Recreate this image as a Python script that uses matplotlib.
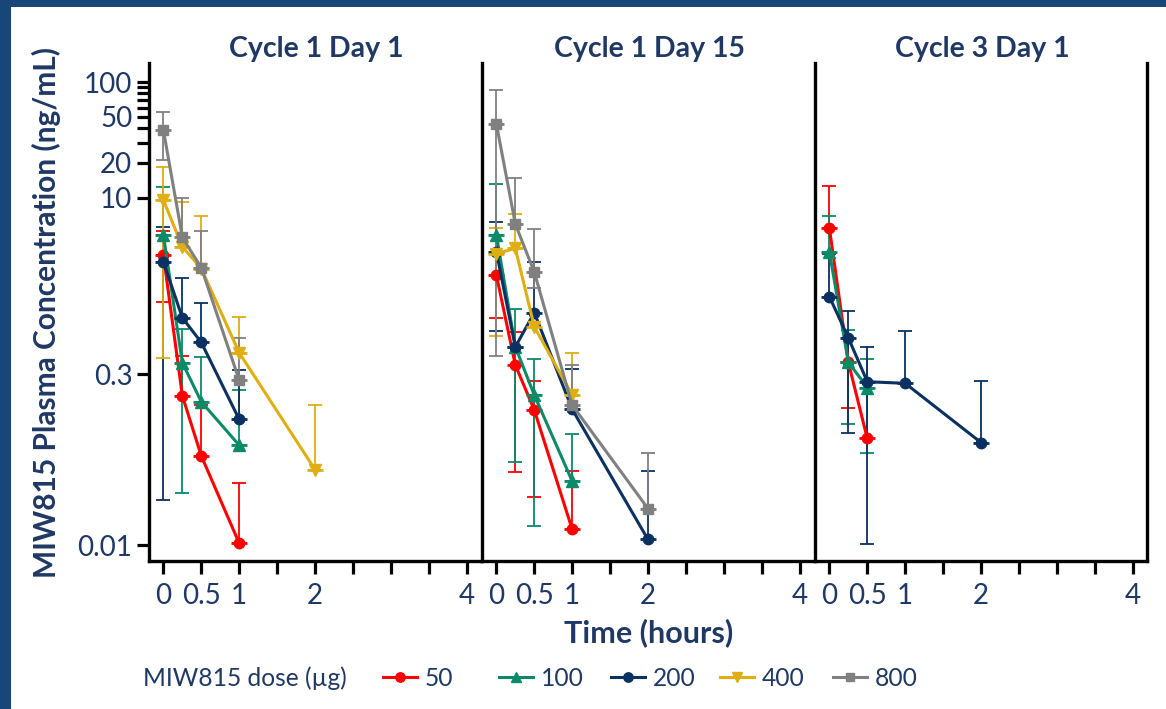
import numpy as np
import matplotlib
matplotlib.use("Agg")
import matplotlib.pyplot as plt
from matplotlib.lines import Line2D
from matplotlib.patches import Rectangle
from matplotlib.ticker import FixedLocator, NullFormatter

plt.rcParams['font.family'] = ['Lato', 'DejaVu Sans']

nan = np.nan
times = [0, 0.25, 0.5, 1, 2]
panels = ["Cycle 1 Day 1", "Cycle 1 Day 15", "Cycle 3 Day 1"]
doses = ["50", "100", "200", "400", "800"]

# ---- Cycle 1 Day 1 ----
c1d1_mean = {
    "50":  [3.2, 0.195, 0.059, 0.0104, nan],
    "100": [4.77, 0.376, 0.173, 0.073, nan],
    "200": [2.8, 0.92, 0.564, 0.122, nan],
    "400": [9.57, 3.78, 2.45, 0.459, 0.045],
    "800": [38.5, 4.55, 2.49, 0.266, nan],
}
c1d1_hi = {
    "50":  [5.2, 0.43, 0.164, 0.0345, nan],
    "100": [12.5, 0.73, 0.419, 0.221, nan],
    "200": [5.62, 2.05, 1.24, 0.325, nan],
    "400": [18.5, 9.25, 6.96, 0.94, 0.162],
    "800": [54.7, 9.9, 5.19, 0.61, nan],
}
c1d1_lo = {
    "50":  [1.26, nan, nan, nan, nan],
    "100": [nan, 0.028, nan, nan, nan],
    "200": [0.0245, nan, nan, nan, nan],
    "400": [0.416, nan, nan, nan, nan],
    "800": [21.2, nan, nan, nan, nan],
}

# ---- Cycle 1 Day 15 ----
c1d15_mean = {
    "50":  [2.15, 0.359, 0.147, 0.0137, nan],
    "100": [4.77, 0.516, 0.198, 0.0357, nan],
    "200": [3.42, 0.516, 1.02, 0.149, 0.0112],
    "400": [3.3, 3.66, 0.77, 0.198, nan],
    "800": [43.4, 5.93, 2.28, 0.162, 0.0207],
}
c1d15_hi = {
    "50":  [3.31, 0.688, 0.261, 0.0438, nan],
    "100": [13.1, 1.09, 0.405, 0.0904, nan],
    "200": [6.13, nan, 2.8, 0.33, 0.0436],
    "400": [5.5, 7.2, nan, 0.459, nan],
    "800": [85.3, 14.9, 5.4, 0.359, 0.062],
}
c1d15_lo = {
    "50":  [0.92, 0.043, 0.0261, nan, nan],
    "100": [nan, 0.0525, 0.0146, nan, nan],
    "200": [0.706, nan, nan, nan, nan],
    "400": [0.643, nan, nan, nan, nan],
    "800": [0.432, nan, 1.65, nan, nan],
}

# ---- Cycle 3 Day 1 ----
c3d1_mean = {
    "50":  [5.45, 0.379, 0.0835, nan, nan],
    "100": [3.42, 0.38, 0.23, nan, nan],
    "200": [1.40, 0.618, 0.258, 0.25, 0.077],
}
c3d1_hi = {
    "50":  [12.6, 0.602, nan, nan, nan],
    "100": [6.96, 0.72, 0.402, nan, nan],
    "200": [3.27, 1.06, 0.516, 0.706, 0.262],
}
c3d1_lo = {
    "50":  [nan, 0.152, nan, nan, nan],
    "100": [nan, 0.111, 0.062, nan, nan],
    "200": [nan, 0.093, 0.0102, nan, nan],
}

panel_data = [(c1d1_mean, c1d1_hi, c1d1_lo),
              (c1d15_mean, c1d15_hi, c1d15_lo),
              (c3d1_mean, c3d1_hi, c3d1_lo)]

yticks_major = [0.01, 0.3, 10, 20, 50, 100]
ytick_labels = ["0.01", "0.3", "10", "20", "50", "100"]
yticks_minor = [30, 40, 60, 70, 80, 90]
xticks_major = [0, 0.5, 1, 2, 4]
xtick_labels = ["0", "0.5", "1", "2", "4"]
xticks_minor = [1.5, 2.5, 3, 3.5]

colors = {"50": "#FF0000", "100": "#0B8A68", "200": "#0A3161",
          "400": "#DFAE12", "800": "#808080"}
markers = {"50": "o", "100": "^", "200": "o", "400": "v", "800": "s"}
msizes = {"50": 7.5, "100": 8.5, "200": 7.5, "400": 8.5, "800": 7}
navy = "#1F3864"

W, H = 1166, 709
fig = plt.figure(figsize=(W / 100, H / 100), dpi=100)

# blue frame
fig.patches.append(Rectangle((0, 0), 11 / W, 1, transform=fig.transFigure,
                             facecolor="#194679", edgecolor="none", zorder=0))
fig.patches.append(Rectangle((0, 1 - 7 / H), 1, 7 / H, transform=fig.transFigure,
                             facecolor="#194679", edgecolor="none", zorder=0))

lefts = [149, 482, 815]
width_px = 332
top_px, bot_px = 63, 561
axes = []
for i in range(3):
    ax = fig.add_axes([lefts[i] / W, 1 - bot_px / H, width_px / W, (bot_px - top_px) / H])
    axes.append(ax)
    ax.set_yscale("log")
    ax.set_ylim(0.0073, 146)
    ax.set_xlim(-0.19, 4.19)
    ax.patch.set_alpha(0)
    for s in ["left", "bottom", "right", "top"]:
        ax.spines[s].set_linewidth(2.4)
        ax.spines[s].set_color("black")
    ax.spines["top"].set_visible(False)
    ax.spines["right"].set_visible(i == 2)

    ax.set_xticks(xticks_major)
    ax.set_xticklabels(xtick_labels)
    ax.xaxis.set_minor_locator(FixedLocator(xticks_minor))
    ax.xaxis.set_minor_formatter(NullFormatter())
    ax.tick_params(axis="x", which="both", direction="out", length=9, width=2.3,
                   color="black", labelsize=20, labelcolor=navy, pad=7)
    if i == 0:
        ax.set_yticks(yticks_major)
        ax.set_yticklabels(ytick_labels)
        ax.yaxis.set_minor_locator(FixedLocator(yticks_minor))
        ax.yaxis.set_minor_formatter(NullFormatter())
        ax.tick_params(axis="y", which="both", direction="out", length=9, width=2.3,
                       color="black", labelsize=20, labelcolor=navy, pad=3)
    else:
        ax.yaxis.set_major_locator(FixedLocator([]))
        ax.yaxis.set_minor_locator(FixedLocator([]))

    means, his, los = panel_data[i]
    for d in doses:
        if d not in means:
            continue
        m = np.array(means[d], dtype=float)
        hi = np.array(his[d], dtype=float)
        lo = np.array(los[d], dtype=float)
        t = np.array(times, dtype=float)
        c = colors[d]
        # upper error bars
        mk = ~np.isnan(hi) & ~np.isnan(m)
        if mk.any():
            ax.errorbar(t[mk], m[mk], yerr=[np.zeros(mk.sum()), hi[mk] - m[mk]],
                        fmt="none", ecolor=c, elinewidth=1.3, capsize=5.2, capthick=1.3,
                        zorder=2)
        mk = ~np.isnan(lo) & ~np.isnan(m)
        if mk.any():
            ax.errorbar(t[mk], m[mk], yerr=[m[mk] - lo[mk], np.zeros(mk.sum())],
                        fmt="none", ecolor=c, elinewidth=1.3, capsize=5.2, capthick=1.3,
                        zorder=2)
        ok = ~np.isnan(m)
        ax.plot(t[ok], m[ok], "-", color=c, lw=2.2, marker=markers[d],
                ms=msizes[d], mec=c, mfc=c, zorder=3)
        ax.plot(t[ok], m[ok], linestyle="none", marker="_", ms=11, mew=2,
                color=c, zorder=3)

# titles
title_x = [316, 650, 982]
for i in range(3):
    fig.text(title_x[i] / W, 1 - 57 / H, panels[i], ha="center", va="baseline",
             fontsize=20.5, fontweight="bold", color=navy)

fig.text(46 / W, 1 - 312 / H, "MIW815 Plasma Concentration (ng/mL)", rotation=90,
         ha="center", va="center", fontsize=21.5, fontweight="bold", color=navy)
fig.text(649 / W, 1 - 642 / H, "Time (hours)", ha="center", va="baseline",
         fontsize=22, fontweight="bold", color=navy)

# legend
fig.text(143 / W, 1 - 678 / H, "MIW815 dose (\u00b5g)", ha="left", va="center",
         fontsize=17.7, color=navy)
leg_x = [383, 499, 611, 720, 833]
for d, lx in zip(doses, leg_x):
    h = Line2D([], [], color=colors[d], lw=2.2, marker=markers[d], ms=msizes[d] * 0.9,
               mec=colors[d], mfc=colors[d])
    fig.legend(handles=[h], labels=[d], loc="center left",
               bbox_to_anchor=(lx / W, 1 - 678 / H), frameon=False, fontsize=17.7,
               labelcolor=navy, handlelength=1.4, handletextpad=0.3, borderpad=0,
               borderaxespad=0)

fig.savefig("out.png", dpi=100, facecolor="white")
